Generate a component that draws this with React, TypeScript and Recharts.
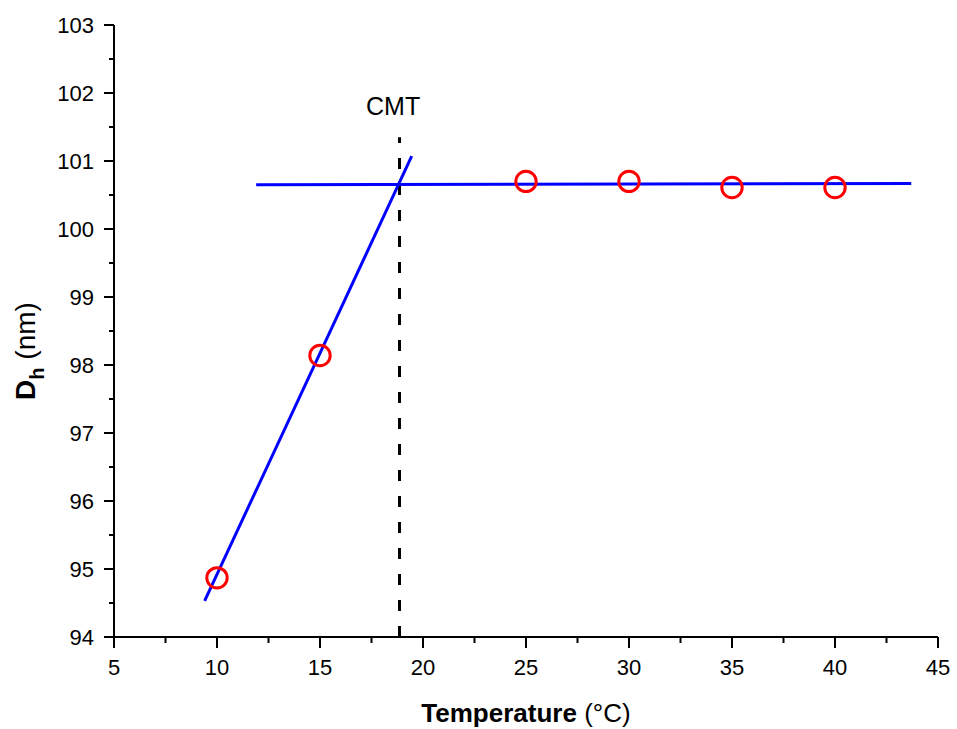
import React from 'react';
import { ScatterChart, Scatter, XAxis, YAxis, ReferenceLine, ReferenceDot } from 'recharts';

// Measured data
const temperatures = [10, 15, 25, 30, 35, 40];
const diameters = [94.87, 98.14, 100.70, 100.70, 100.61, 100.61];

// Fitted lines (endpoints)
const steepFitX = [9.4, 19.45];
const steepFitY = [94.53, 101.07];
const flatFitX = [11.9, 43.7];
const flatFitY = [100.65, 100.67];

// CMT marker
const cmtX = 18.86;
const cmtRange = [94, 101.35];
const cmtLabel = 'CMT';
const cmtLabelPos = { x: 18.55, y: 101.8 };

// Axes
const xTicks = [5, 7.5, 10, 12.5, 15, 17.5, 20, 22.5, 25, 27.5, 30, 32.5, 35, 37.5, 40, 42.5, 45];
const yTicks = [94, 94.5, 95, 95.5, 96, 96.5, 97, 97.5, 98, 98.5, 99, 99.5, 100, 100.5, 101, 101.5, 102, 102.5, 103];
const xDomain = [5, 45];
const yDomain = [94, 103];

const data = temperatures.map((t, i) => ({ x: t, y: diameters[i] }));

const FONT = 'Liberation Sans, Arial, sans-serif';

const XTick = (props: any) => {
  const { x, y, payload } = props;
  const major = payload.value % 5 === 0;
  return (
    <g>
      <line x1={x} y1={y} x2={x} y2={y + (major ? 11 : 6)} stroke="#000" strokeWidth={2} />
      {major && (
        <text x={x} y={y + 38} textAnchor="middle" fontSize={22} fontFamily={FONT} fill="#000">
          {payload.value}
        </text>
      )}
    </g>
  );
};

const YTick = (props: any) => {
  const { x, y, payload } = props;
  const major = Number.isInteger(payload.value);
  return (
    <g>
      <line x1={x - (major ? 10 : 5)} y1={y} x2={x} y2={y} stroke="#000" strokeWidth={2} />
      {major && (
        <text x={x - 20} y={y + 8} textAnchor="end" fontSize={22} fontFamily={FONT} fill="#000">
          {payload.value}
        </text>
      )}
    </g>
  );
};

const XTitle = (props: any) => {
  const vb = props.viewBox || {};
  const cx = vb.x + vb.width / 2;
  return (
    <text x={cx} y={722} textAnchor="middle" fontSize={26} fontFamily={FONT} fill="#000">
      <tspan fontWeight="bold">Temperature</tspan>
      <tspan> (°C)</tspan>
    </text>
  );
};

const YTitle = () => (
  <text transform="translate(35,351) rotate(-90)" textAnchor="middle" fontSize={28} fontFamily={FONT} fill="#000">
    <tspan fontWeight="bold">D</tspan>
    <tspan fontWeight="bold" fontSize={20} dy={9}>h</tspan>
    <tspan dy={-9}> (nm)</tspan>
  </text>
);

const Ring = (props: any) => (
  <circle cx={props.cx} cy={props.cy} r={10.2} fill="none" stroke="#ff0000" strokeWidth={3} />
);

export default function App() {
  return (
    <div style={{ position: 'absolute', left: 0, top: 0, background: '#fff' }}>
      <ScatterChart width={957} height={729} margin={{ top: 25, right: 19, bottom: 0, left: 0 }}>
        <XAxis
          type="number"
          dataKey="x"
          domain={xDomain}
          ticks={xTicks}
          interval={0}
          allowDataOverflow
          height={92}
          tickSize={0}
          tickMargin={0}
          tickLine={false}
          axisLine={{ stroke: '#000', strokeWidth: 2 }}
          tick={<XTick />}
          label={{ content: <XTitle /> }}
        />
        <YAxis
          type="number"
          dataKey="y"
          domain={yDomain}
          ticks={yTicks}
          interval={0}
          allowDataOverflow
          width={114}
          tickSize={0}
          tickMargin={0}
          tickLine={false}
          axisLine={{ stroke: '#000', strokeWidth: 2 }}
          tick={<YTick />}
          label={{ content: <YTitle /> }}
        />
        <ReferenceLine
          segment={[{ x: cmtX, y: cmtRange[0] }, { x: cmtX, y: cmtRange[1] }]}
          stroke="#000"
          strokeWidth={3}
          strokeDasharray="11 15"
          ifOverflow="visible"
        />
        <ReferenceLine
          segment={[{ x: steepFitX[0], y: steepFitY[0] }, { x: steepFitX[1], y: steepFitY[1] }]}
          stroke="#0000ff"
          strokeWidth={3}
          ifOverflow="visible"
        />
        <ReferenceLine
          segment={[{ x: flatFitX[0], y: flatFitY[0] }, { x: flatFitX[1], y: flatFitY[1] }]}
          stroke="#0000ff"
          strokeWidth={3}
          ifOverflow="visible"
        />
        <ReferenceDot
          x={cmtLabelPos.x}
          y={cmtLabelPos.y}
          r={1}
          fill="none"
          stroke="none"
          ifOverflow="visible"
          label={{ value: cmtLabel, position: 'center', fontSize: 25, fill: '#000', fontFamily: FONT }}
        />
        <Scatter data={data} shape={<Ring />} isAnimationActive={false} />
      </ScatterChart>
    </div>
  );
}
